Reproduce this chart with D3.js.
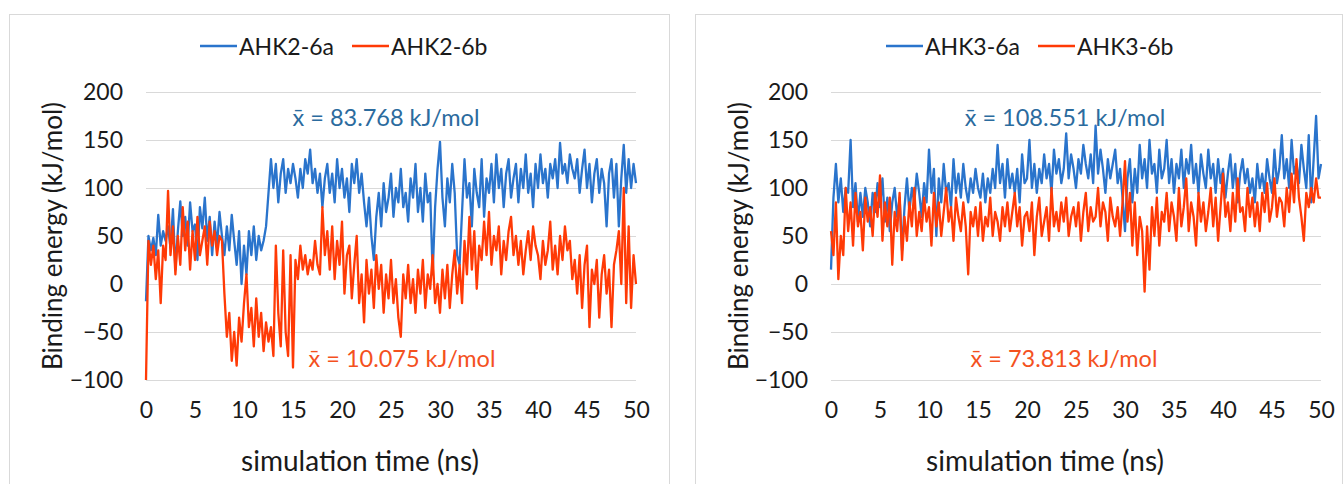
<!DOCTYPE html>
<html><head><meta charset="utf-8">
<script src="https://cdn.jsdelivr.net/npm/d3@7"></script>
<style>body{margin:0;background:#fff}svg{display:block}</style>
</head><body>
<svg id="c" width="1344" height="484"></svg>
<script>
// time axis: 0..50 ns, step 0.25 ns
const timeStep = 0.25;
const xTicks = [0,5,10,15,20,25,30,35,40,45,50];
const yTicks = [-100,-50,0,50,100,150,200];

const ahk2_6a = [
-18,50,35,48, 30,72,40,55, 45,60,38,78, 15,55,86,50, 70,40,85,55,
62,25,80,58, 90,45,70,30, 65,40,75,50, 30,60,35,72, 45,20,55,0,
40,10,55,30, 60,25,50,35, 45,60,95,130, 100,125,85,115, 130,95,120,105,
125,110,90,120, 100,130,115,140, 105,120,95,115, 80,110,125,95, 115,85,130,100,
120,90,110,75, 125,105,130,95, 115,85,60,90, 50,25,70,95, 60,105,75,90,
115,70,100,85, 120,80,95,65, 110,90,125,75, 100,65,115,85, 95,10,80,120,
148,90,60,110, 85,125,95,30, 20,75,130,90, 105,60,120,95, 80,130,70,110,
95,125,85,135, 100,120,80,115, 130,90,110,125, 85,120,100,135, 95,115,80,125,
100,135,105,120, 90,125,110,130, 100,147,115,125, 105,135,120,110, 130,95,120,140,
100,125,85,115, 130,95,120,105, 60,115,130,90, 125,60,110,145, 95,130,100,125,
105];
const ahk2_6b = [
-100,45,20,40, 5,35,-20,40, 25,97,30,60, 10,50,20,80, 35,65,15,55,
25,70,30,45, 60,20,65,40, 55,30,50,45, -10,-55,-30,-80, -50,-85,-35,-60,
-20,10,-45,-25, -65,-15,-55,-30, -70,-40,-60,-45, -75,40,-30,-65, 35,-50,-75,30,
-87,25,5,40, 15,30,10,25, 15,45,20,10, 80,30,55,15, 60,5,45,20,
65,-10,30,40, -15,20,50,-20, 10,-40,25,-10, 15,-25,30,-5, 20,-30,10,-15,
25,-20,5,-35, -55,10,-15,20, -20,5,-30,15, -10,25,-25,10, -5,30,-20,0,
-30,15,-15,20, -25,10,35,-10, 20,-20,45,10, 70,15,55,-5, 40,25,65,30,
75,20,50,35, 60,10,45,25, 55,70,30,50, 20,45,10,35, 55,25,60,40,
30,5,45,20, 35,65,15,40, 10,50,25,60, 35,45,5,25, -10,30,-25,20,
40,-45,15,0, 25,-35,10,30, -10,15,-45,20, 35,55,0,100, -20,60,-25,30,
0];
const ahk3_6a = [
15,90,125,85, 110,75,100,95, 150,80,105,65, 95,70,100,85, 60,95,75,105,
80,110,65,90, 55,85,100,70, 90,35,80,110, 75,100,85,115, 95,70,105,85,
140,95,120,50, 110,85,125,95, 105,80,130,95, 115,90,125,100, 85,110,95,120,
100,90,115,85, 110,95,120,100, 145,105,125,90, 130,100,115,95, 120,85,135,105,
110,150,100,125, 95,120,105,135, 110,125,95,140, 115,130,105,120, 157,110,135,120,
100,130,115,145, 125,110,135,105, 165,115,140,120, 95,130,110,125, 140,105,120,90,
55,110,130,85, 120,95,145,110, 130,100,150,115, 125,95,140,110, 120,150,105,130,
95,125,110,140, 100,130,115,145, 105,125,95,135, 115,100,140,110, 125,95,130,105,
120,90,115,135, 100,125,85,115, 130,105,120,95, 110,85,125,100, 115,95,130,110,
95,140,105,120, 155,110,130,100, 150,115,125,105, 145,120,100,155, 85,130,175,110,
125];
const ahk3_6b = [
55,30,85,5, 50,30,100,55, 85,40,95,60, 75,35,90,65, 80,50,95,70,
113,45,85,60, 90,20,75,55, 95,25,70,45, 85,60,100,50, 75,55,90,65,
80,40,95,60, 85,50,75,100, 65,80,45,90, 70,55,85,60, 10,75,60,80,
50,85,45,70, 60,90,50,75, 65,45,80,60, 85,55,75,95, 60,80,40,70,
75,55,85,30, 70,90,50,65, 80,45,100,60, 75,55,85,65, 90,50,70,80,
60,85,45,75, 95,55,80,65, 70,100,60,85, 75,45,90,70, 60,80,50,85,
128,65,95,40, 85,30,70,55, -8,60,15,80, 50,90,40,75, 65,95,55,85,
70,45,100,60, 80,110,55,85, 70,40,95,65, 85,55,75,100, 60,90,45,80,
115,70,85,55, 95,65,110,75, 80,55,100,70, 90,60,85,55, 95,75,105,65,
80,110,70,90, 85,60,100,75, 115,85,130,90, 70,45,95,80, 100,85,110,90,
90];

const panels = [
  {x0:9, w:660, plotL:146, plotR:636, names:["AHK2-6a","AHK2-6b"], series:[ahk2_6a, ahk2_6b],
   means:["83.768","10.075"], meanX:[386,402], legX:200},
  {x0:695, w:647, plotL:831, plotR:1321, names:["AHK3-6a","AHK3-6b"], series:[ahk3_6a, ahk3_6b],
   means:["108.551","73.813"], meanX:[1065,1064], legX:886}
];
const colors = ["#2a74cc","#ff3a06"];
const meanColors = ["#2b6b9e","#f4511e"];
const font = "Lato, 'Open Sans', sans-serif";
const ink = "#1a1a1a";

const svg = d3.select("#c");
panels.forEach(p => {
  const g = svg.append("g");
  g.append("rect").attr("x",p.x0+0.5).attr("y",14.5).attr("width",p.w).attr("height",480)
    .attr("fill","#fff").attr("stroke","#d9d9d9").attr("stroke-width",1);
  const x = d3.scaleLinear().domain([0,50]).range([p.plotL,p.plotR]);
  const y = d3.scaleLinear().domain([-100,200]).range([380,92]);
  g.selectAll(".grid").data(yTicks).join("line")
    .attr("x1",p.plotL).attr("x2",p.plotR)
    .attr("y1",d=>Math.round(y(d))+0.5).attr("y2",d=>Math.round(y(d))+0.5)
    .attr("stroke","#d9d9d9").attr("stroke-width",1);
  const ya = g.append("g").attr("transform",`translate(${p.plotL},0)`)
    .call(d3.axisLeft(y).tickValues(yTicks).tickSize(0).tickPadding(23).tickFormat(d=>d<0?"\u2212"+Math.abs(d):d));
  ya.select(".domain").remove();
  ya.selectAll("text").attr("font-family",font).attr("font-size",23).attr("fill",ink);
  const xa = g.append("g").attr("transform",`translate(0,380)`)
    .call(d3.axisBottom(x).tickValues(xTicks).tickSize(0).tickPadding(22));
  xa.select(".domain").remove();
  xa.selectAll("text").attr("font-family",font).attr("font-size",23).attr("fill",ink);
  const line = d3.line().x((d,i)=>x(i*timeStep)).y(d=>y(d));
  p.series.forEach((s,k)=>{
    g.append("path").datum(s).attr("d",line).attr("fill","none")
      .attr("stroke",colors[k]).attr("stroke-width",2.3).attr("stroke-linejoin","round");
  });
  g.append("text").attr("x",(p.plotL+p.plotR)/2-31).attr("y",460).attr("text-anchor","middle")
    .attr("dominant-baseline","central")
    .attr("font-family",font).attr("font-size",28).attr("fill",ink).text("simulation time (ns)");
  g.append("text").attr("transform",`translate(${p.x0+43},236) rotate(-90)`).attr("text-anchor","middle")
    .attr("dominant-baseline","central")
    .attr("font-family",font).attr("font-size",26).attr("fill",ink).text("Binding energy (kJ/mol)");
  p.names.forEach((n,k)=>{
    const lx = p.legX + k*152;
    g.append("line").attr("x1",lx).attr("x2",lx+37).attr("y1",46).attr("y2",46)
      .attr("stroke",colors[k]).attr("stroke-width",2.5);
    g.append("text").attr("x",lx+39).attr("y",46).attr("dominant-baseline","central")
      .attr("font-family",font).attr("font-size",23).attr("fill",ink).text(n);
  });
  [117,358].forEach((yy,k)=>{
    g.append("text").attr("x",p.meanX[k]).attr("y",yy).attr("text-anchor","middle")
      .attr("dominant-baseline","central").attr("font-family",font).attr("font-size",23.5)
      .attr("fill",meanColors[k]).text("x\u0304 = "+p.means[k]+" kJ/mol");
  });
});
</script>
</body></html>
